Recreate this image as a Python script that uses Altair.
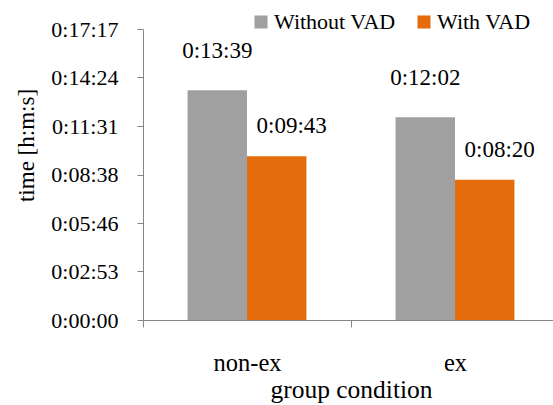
import altair as alt
import pandas as pd

groups = ["non-ex", "non-ex", "ex", "ex"]
series = ["Without VAD", "With VAD", "Without VAD", "With VAD"]
seconds = [819, 583, 722, 500]  # 0:13:39, 0:09:43, 0:12:02, 0:08:20
group_order = ["non-ex", "ex"]
series_order = ["Without VAD", "With VAD"]
colors = ["#a0a0a0", "#e46c0a"]
y_ticks = [0, 172.8, 345.6, 518.4, 691.2, 864.0, 1036.8]

df = pd.DataFrame({"group": groups, "series": series, "seconds": seconds})

FONT = "Liberation Serif"
AXC = "#868686"

x_enc = alt.X(
    "group:N",
    sort=group_order,
    scale=alt.Scale(range=[0, 416], paddingInner=0, paddingOuter=0),
    axis=alt.Axis(
        title="group condition",
        tickBand="extent",
        labelAngle=0,
        labelFont=FONT, labelFontSize=24.5, labelColor="black",
        labelPadding=24, tickSize=7, tickColor=AXC, domainColor=AXC,
        titleFont=FONT, titleFontSize=25.5, titleFontWeight="normal", titleColor="black",
        titleBaseline="alphabetic", titleY=77, titleX=208, titleAlign="center",
    ),
)
xoff_enc = alt.XOffset("series:N", sort=series_order,
                       scale=alt.Scale(paddingInner=0, paddingOuter=0.75))
y_enc = alt.Y(
    "seconds:Q",
    scale=alt.Scale(domain=[0, 1036.8], nice=False, zero=True),
    axis=alt.Axis(
        title="time [h:m:s]",
        values=y_ticks,
        labelExpr="utcFormat(round(datum.value) * 1000, '%-H:%M:%S')",
        grid=False,
        labelFont=FONT, labelFontSize=22, labelColor="black",
        labelPadding=19, tickSize=6, tickColor=AXC, domainColor=AXC,
        titleFont=FONT, titleFontSize=23, titleFontWeight="normal", titleColor="black",
        titleBaseline="alphabetic", titleX=-110, titleY=116, titleAlign="center", titleAngle=270,
    ),
)

base = alt.Chart(df).transform_calculate(
    label="utcFormat(datum.seconds * 1000, '%-H:%M:%S')"
)

bars = base.mark_bar().encode(
    x=x_enc,
    xOffset=xoff_enc,
    y=y_enc,
    color=alt.Color(
        "series:N",
        sort=series_order,
        scale=alt.Scale(domain=series_order, range=colors),
        legend=alt.Legend(
            orient="none", legendX=107, legendY=-18, direction="horizontal",
            title=None, symbolType="square", symbolSize=170, symbolStrokeWidth=0,
            labelFont=FONT, labelFontSize=22, labelColor="black",
            columnPadding=17, labelOffset=2,
        ),
    ),
)

txt_without = base.transform_filter(alt.datum.series == "Without VAD").mark_text(
    font=FONT, fontSize=23, color="black", baseline="middle", dy=-39
).encode(x=x_enc, xOffset=xoff_enc, y=y_enc, text="label:N")

txt_with = base.transform_filter(alt.datum.series == "With VAD").mark_text(
    font=FONT, fontSize=23, color="black", baseline="middle", dy=-30, dx=15
).encode(x=x_enc, xOffset=xoff_enc, y=y_enc, text="label:N")

chart = alt.layer(bars, txt_without, txt_with).properties(
    width=410,
    height=291,
    autosize="none",
    padding={"left": 143, "top": 29, "right": 0, "bottom": 85},
).configure_view(stroke=None)

chart.save("out.html", embed_options={"renderer": "svg", "actions": False})
